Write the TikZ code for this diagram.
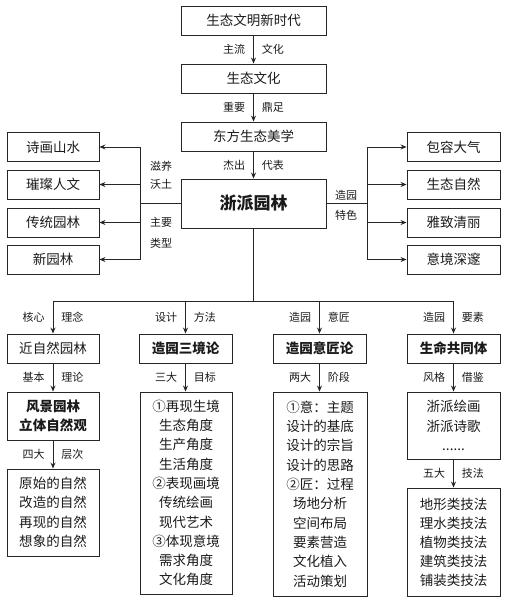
\documentclass[tikz,border=0pt]{standalone}
\usepackage{fontspec}
\setmainfont{Noto Sans CJK SC}
\usetikzlibrary{arrows.meta}
\definecolor{ln}{HTML}{262626}
\definecolor{tx}{HTML}{1A1A1A}
\tikzset{
  box/.style={draw=ln,line width=0.9pt,inner sep=0pt,align=center,text=tx,
    font=\fontsize{13.5}{19.3}\selectfont},
  bbox/.style={box,font=\fontsize{13.5}{18.3}\selectfont\bfseries},
  arr/.style={draw=ln,line width=0.9pt,-{Stealth[length=6pt,width=5pt,inset=2pt]}},
  con/.style={draw=ln,line width=0.9pt},
  lab/.style={inner sep=0pt,text=tx,font=\fontsize{11}{13}\selectfont},
  labl/.style={lab,left=8pt},
  labr/.style={lab,right=8pt},
}
\begin{document}
\begin{tikzpicture}[x=1pt,y=-1pt]
\useasboundingbox (0,0) rectangle (506,602);
% central column
\node[box,minimum width=145pt,minimum height=29pt] (t1) at (253.5,20.5) {生态文明新时代};
\node[box,minimum width=145pt,minimum height=29pt] (t2) at (253.5,78.5) {生态文化};
\node[box,minimum width=145pt,minimum height=29pt] (t3) at (253.5,136.5) {东方生态美学};
\node[box,minimum width=145pt,minimum height=49pt,font=\fontsize{17}{20}\selectfont\bfseries] (m) at (253.5,203.5) {浙派园林};
\draw[arr] (t1) -- node[labl]{主流} node[labr]{文化} (t2);
\draw[arr] (t2) -- node[labl]{重要} node[labr]{鼎足} (t3);
\draw[arr] (t3) -- node[labl]{杰出} node[labr]{代表} (m);
% left
\node[box,minimum width=92pt,minimum height=29pt] (L1) at (53,147) {诗画山水};
\node[box,minimum width=92pt,minimum height=29pt] (L2) at (53,184.5) {璀璨人文};
\node[box,minimum width=92pt,minimum height=29pt] (L3) at (53,222.5) {传统园林};
\node[box,minimum width=92pt,minimum height=29pt] (L4) at (53,259.5) {新园林};
\coordinate (lb) at (140,203.5);
\draw[con] (m.west) -- (lb);
\foreach \n in {L1,L2,L3,L4} \draw[arr] (lb) |- (\n.east);
\node[lab] (ll1) at (161,166) {滋养};
\node[lab] (ll2) at (161,184) {沃土};
\node[lab] (ll3) at (161,222) {主要};
\node[lab] (ll4) at (161,243) {类型};
% right
\node[box,minimum width=93pt,minimum height=29pt] (R1) at (453.5,147) {包容大气};
\node[box,minimum width=93pt,minimum height=29pt] (R2) at (453.5,184.5) {生态自然};
\node[box,minimum width=93pt,minimum height=29pt] (R3) at (453.5,222.5) {雅致清丽};
\node[box,minimum width=93pt,minimum height=29pt] (R4) at (453.5,259.5) {意境深邃};
\coordinate (rb) at (367,203.5);
\draw[con] (m.east) -- (rb);
\foreach \n in {R1,R2,R3,R4} \draw[arr] (rb) |- (\n.west);
\node[lab] (rl1) at (346,195) {造园};
\node[lab] (rl2) at (346,215) {特色};
% bottom row
\node[box,minimum width=92pt,minimum height=29pt] (B1) at (53,348.5) {近自然园林};
\node[bbox,minimum width=93pt,minimum height=29pt] (B2) at (185.5,348.5) {造园三境论};
\node[bbox,minimum width=93pt,minimum height=29pt] (B3) at (319.5,348.5) {造园意匠论};
\node[bbox,minimum width=93pt,minimum height=29pt] (B4) at (453.5,348.5) {生命共同体};
\coordinate (bb) at (253.5,301);
\draw[con] (m.south) -- (bb);
\draw[arr] (bb) -| node[pos=0.75,labl]{核心} node[pos=0.75,labr]{理念} (B1.north);
\draw[arr] (bb) -| node[pos=0.75,labl]{设计} node[pos=0.75,labr]{方法} (B2.north);
\draw[arr] (bb) -| node[pos=0.75,labl]{造园} node[pos=0.75,labr]{意匠} (B3.north);
\draw[arr] (bb) -| node[pos=0.75,labl]{造园} node[pos=0.75,labr]{要素} (B4.north);
% column 1
\node[bbox,minimum width=92pt,minimum height=48pt] (C1a) at (53,416) {风景园林\\立体自然观};
\node[box,minimum width=92pt,minimum height=87pt,font=\fontsize{13.5}{19.5}\selectfont] (C1b) at (53,512.5) {原始的自然\\改造的自然\\再现的自然\\想象的自然};
\draw[arr] (B1) -- node[labl]{基本} node[labr]{理论} (C1a);
\draw[arr] (C1a) -- node[labl]{四大} node[labr]{层次} (C1b);
% column 2
\node[box,minimum width=92pt,minimum height=202pt] (C2) at (186,493) {①再现生境\\生态角度\\生产角度\\生活角度\\②表现画境\\传统绘画\\现代艺术\\③体现意境\\需求角度\\文化角度};
\draw[arr] (B2.south) -- node[labl]{三大} node[labr]{目标} (B2.south |- C2.north);
% column 3
\node[box,minimum width=94pt,minimum height=204pt] (C3) at (320,494) {①意：主题\\设计的基底\\设计的宗旨\\设计的思路\\②匠：过程\\场地分析\\空间布局\\要素营造\\文化植入\\活动策划};
\draw[arr] (B3.south) -- node[labl]{两大} node[labr]{阶段} (B3.south |- C3.north);
% column 4
\node[box,minimum width=93pt,minimum height=67pt] (C4a) at (453.5,425.5) {浙派绘画\\浙派诗歌\\......};
\node[box,minimum width=93pt,minimum height=108pt,font=\fontsize{13.5}{19}\selectfont] (C4b) at (453.5,542) {地形类技法\\理水类技法\\植物类技法\\建筑类技法\\铺装类技法};
\draw[arr] (B4) -- node[labl]{风格} node[labr]{借鉴} (C4a);
\draw[arr] (C4a) -- node[labl]{五大} node[labr]{技法} (C4b);
\end{tikzpicture}
\end{document}
